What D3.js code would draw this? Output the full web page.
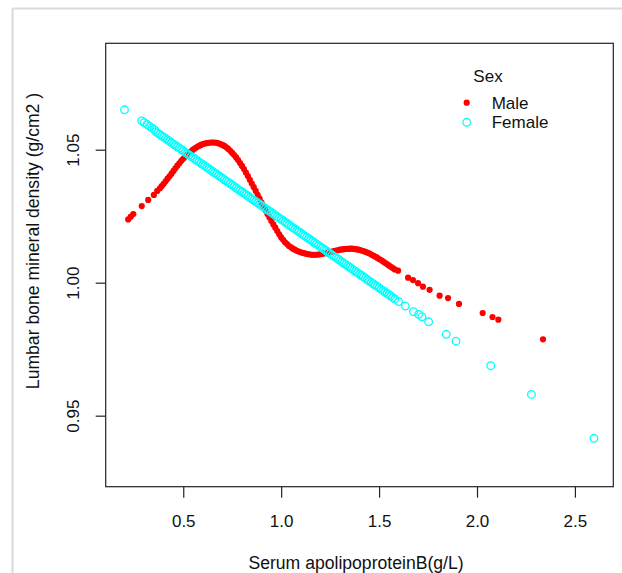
<!DOCTYPE html>
<html><head><meta charset="utf-8">
<script src="https://cdn.jsdelivr.net/npm/d3@7"></script>
<style>body{margin:0;background:#fff}svg{display:block;font-family:"Liberation Sans",Arial,sans-serif}</style>
</head><body><svg id="c" width="622" height="573"></svg>
<script>
// ---- data ----
const xTicks = [0.5, 1.0, 1.5, 2.0, 2.5];
const xTickLabels = ["0.5", "1.0", "1.5", "2.0", "2.5"];
const yTicks = [0.95, 1.00, 1.05];
const yTickLabels = ["0.95", "1.00", "1.05"];
const seriesNames = ["Male", "Female"];
const maleX = [0.219,0.232,0.245,0.288,0.321,0.350,0.367,0.381,
0.39,0.40,0.41,0.42,0.43,0.44,0.45,0.46,0.47,0.48,0.49,0.50,0.51,0.52,0.53,0.54,0.55,0.56,0.57,0.58,0.59,
0.60,0.61,0.62,0.63,0.64,0.65,0.66,0.67,0.68,0.69,0.70,0.71,0.72,0.73,0.74,0.75,0.76,0.77,0.78,0.79,
0.80,0.81,0.82,0.83,0.84,0.85,0.86,0.87,0.88,0.89,0.90,0.91,0.92,0.93,0.94,0.95,0.96,0.97,0.98,0.99,
1.00,1.01,1.02,1.03,1.04,1.05,1.06,1.07,1.08,1.09,1.10,1.11,1.12,1.13,1.14,1.15,1.16,1.17,1.18,1.19,
1.20,1.21,1.22,1.23,1.24,1.25,1.26,1.27,1.28,1.29,1.30,1.31,1.32,1.33,1.34,1.35,1.36,1.37,1.38,1.39,
1.40,1.41,1.42,1.43,1.44,1.45,1.46,1.47,1.48,1.49,1.50,1.51,1.52,1.53,1.54,1.55,1.56,1.57,1.58,
1.597,1.648,1.673,1.699,1.724,1.758,1.809,1.852,1.908,2.029,2.079,2.109,2.337];
const maleY = [1.0238,1.0248,1.0258,1.0288,1.0311,1.0330,1.0345,1.0355,
1.0363,1.0372,1.0381,1.0391,1.0400,1.0410,1.0420,1.0430,1.0440,1.0449,1.0458,1.0466,1.0474,1.0481,1.0488,1.0494,1.0500,1.0505,1.0510,1.0514,1.0518,
1.0521,1.0523,1.0525,1.0526,1.0527,1.0527,1.0527,1.0526,1.0524,1.0521,1.0518,1.0514,1.0509,1.0503,1.0496,1.0488,1.0480,1.0471,1.0461,1.0450,
1.0439,1.0427,1.0414,1.0401,1.0387,1.0373,1.0359,1.0345,1.0330,1.0316,1.0301,1.0286,1.0272,1.0258,1.0245,1.0232,1.0219,1.0207,1.0194,1.0182,
1.0170,1.0161,1.0152,1.0145,1.0138,1.0133,1.0128,1.0124,1.0120,1.0117,1.0114,1.0112,1.0110,1.0108,1.0107,1.0106,1.0105,1.0105,1.0105,1.0106,
1.0107,1.0108,1.0110,1.0111,1.0113,1.0115,1.0117,1.0119,1.0121,1.0122,1.0124,1.0125,1.0126,1.0127,1.0127,1.0128,1.0128,1.0127,1.0126,1.0125,
1.0123,1.0121,1.0119,1.0116,1.0113,1.0110,1.0106,1.0102,1.0098,1.0094,1.0089,1.0085,1.0080,1.0075,1.0070,1.0065,1.0060,1.0055,1.0050,
1.0045,1.0019,1.0010,0.9998,0.9985,0.9973,0.9951,0.9942,0.9920,0.9886,0.9871,0.9861,0.9787];
const femaleX = [0.200,0.288,0.301,0.315,0.328,0.340,0.352,
0.36,0.37,0.38,0.39,0.40,0.41,0.42,0.43,0.44,0.45,0.46,0.47,0.48,0.49,0.50,0.51,0.52,0.53,0.54,0.55,0.56,0.57,0.58,0.59,
0.60,0.61,0.62,0.63,0.64,0.65,0.66,0.67,0.68,0.69,0.70,0.71,0.72,0.73,0.74,0.75,0.76,0.77,0.78,0.79,
0.80,0.81,0.82,0.83,0.84,0.85,0.86,0.87,0.88,0.89,0.90,0.91,0.92,0.93,0.94,0.95,0.96,0.97,0.98,0.99,
1.00,1.01,1.02,1.03,1.04,1.05,1.06,1.07,1.08,1.09,1.10,1.11,1.12,1.13,1.14,1.15,1.16,1.17,1.18,1.19,
1.20,1.21,1.22,1.23,1.24,1.25,1.26,1.27,1.28,1.29,1.30,1.31,1.32,1.33,1.34,1.35,1.36,1.37,1.38,1.39,
1.40,1.41,1.42,1.43,1.44,1.45,1.46,1.47,1.48,1.49,1.50,1.51,1.52,1.53,1.54,1.55,1.56,1.57,1.58,
1.600,1.634,1.676,1.702,1.719,1.753,1.843,1.893,2.070,2.278,2.597];
const femaleY = [1.0650,1.0608,1.0602,1.0595,1.0588,1.0582,1.0576,
1.0568,1.0562,1.0557,1.0552,1.0547,1.0542,1.0537,1.0532,1.0526,1.0521,1.0516,1.0511,1.0506,1.0501,1.0496,1.0490,1.0485,1.0480,1.0475,1.0470,1.0465,1.0459,1.0454,1.0449,
1.0444,1.0439,1.0434,1.0429,1.0423,1.0418,1.0413,1.0408,1.0403,1.0398,1.0393,1.0387,1.0382,1.0377,1.0372,1.0367,1.0362,1.0356,1.0351,1.0346,
1.0341,1.0336,1.0331,1.0326,1.0320,1.0315,1.0310,1.0305,1.0300,1.0295,1.0290,1.0284,1.0279,1.0274,1.0269,1.0264,1.0259,1.0253,1.0248,1.0243,
1.0238,1.0233,1.0228,1.0223,1.0217,1.0212,1.0207,1.0202,1.0197,1.0192,1.0187,1.0181,1.0176,1.0171,1.0166,1.0161,1.0156,1.0150,1.0145,1.0140,
1.0135,1.0130,1.0125,1.0120,1.0114,1.0109,1.0104,1.0099,1.0094,1.0089,1.0084,1.0078,1.0073,1.0068,1.0063,1.0058,1.0053,1.0047,1.0042,1.0037,
1.0032,1.0027,1.0022,1.0017,1.0011,1.0006,1.0001,0.9996,0.9991,0.9986,0.9981,0.9975,0.9970,0.9965,0.9960,0.9955,0.9950,0.9944,0.9939,
0.9929,0.9912,0.9891,0.9881,0.9872,0.9853,0.9806,0.9780,0.9688,0.9580,0.9415];

// ---- layout ----
const L = 105.7, R = 613.3, T = 43.3, B = 486.7;
const FS = 17, FT = 17.6;
const x = d3.scaleLinear().domain([0.104, 2.696]).range([L, R]);
const y = d3.scaleLinear().domain([0.9233, 1.0900]).range([B, T]);
const RED = "#ff0000", CYAN = "#00ffff";

const svg = d3.select("#c");
// outer light frame
svg.append("line").attr("x1", 12.5).attr("x2", 12.5).attr("y1", 8.5).attr("y2", 573).attr("stroke", "#d9d9d9").attr("stroke-width", 2);
svg.append("line").attr("x1", 12.5).attr("x2", 622).attr("y1", 8.5).attr("y2", 8.5).attr("stroke", "#d9d9d9").attr("stroke-width", 2);

// points
const male = maleX.map((v, i) => [v, maleY[i]]);
const female = femaleX.map((v, i) => [v, femaleY[i]]);
svg.append("g").selectAll("circle").data(male).join("circle")
  .attr("cx", d => x(d[0])).attr("cy", d => y(d[1])).attr("r", 3.1).attr("fill", RED);
svg.append("g").selectAll("circle").data(female).join("circle")
  .attr("cx", d => x(d[0])).attr("cy", d => y(d[1])).attr("r", 3.8)
  .attr("fill", "none").attr("stroke", CYAN).attr("stroke-width", 1.3);

// box
svg.append("rect").attr("x", L).attr("y", T).attr("width", R - L).attr("height", B - T)
  .attr("fill", "none").attr("stroke", "#222").attr("stroke-width", 1.2);

// axes
const xa = svg.append("g").attr("transform", `translate(0,${B})`)
  .call(d3.axisBottom(x).tickValues(xTicks).tickSize(11).tickFormat((d, i) => xTickLabels[i]));
xa.select(".domain").remove();
xa.selectAll("line").attr("stroke", "#222").attr("stroke-width", 1.2);
xa.selectAll("text").attr("font-size", FS).attr("fill", "#111").attr("dy", null).attr("y", 40);

const ya = svg.append("g").attr("transform", `translate(${L},0)`)
  .call(d3.axisLeft(y).tickValues(yTicks).tickSize(10).tickFormat((d, i) => yTickLabels[i]));
ya.select(".domain").remove();
ya.selectAll("line").attr("stroke", "#222").attr("stroke-width", 1.2);
ya.selectAll("text").attr("font-size", FS).attr("fill", "#111")
  .attr("x", null).attr("dy", null).attr("text-anchor", "middle")
  .attr("transform", "translate(-26.5,0) rotate(-90)");

// axis titles
svg.append("text").attr("x", 356).attr("y", 569).attr("text-anchor", "middle")
  .attr("font-size", FT).attr("fill", "#111").text("Serum apolipoproteinB(g/L)");
svg.append("text").attr("transform", `translate(39,241) rotate(-90)`).attr("text-anchor", "middle")
  .attr("font-size", FT).attr("fill", "#111").text("Lumbar bone mineral density (g/cm2 )");

// legend
const lg = svg.append("g");
lg.append("text").attr("x", 488).attr("y", 82).attr("text-anchor", "middle").attr("font-size", FS).attr("fill", "#111").text("Sex");
const ly = [102.7, 122.3];
lg.append("circle").attr("cx", 466.7).attr("cy", ly[0]).attr("r", 3.1).attr("fill", RED);
lg.append("circle").attr("cx", 466.7).attr("cy", ly[1]).attr("r", 3.8).attr("fill", "none").attr("stroke", CYAN).attr("stroke-width", 1.3);
seriesNames.forEach((n, i) => lg.append("text").attr("x", 491.7).attr("y", ly[i] + 6)
  .attr("font-size", FS).attr("fill", "#111").text(n));
</script></body></html>
